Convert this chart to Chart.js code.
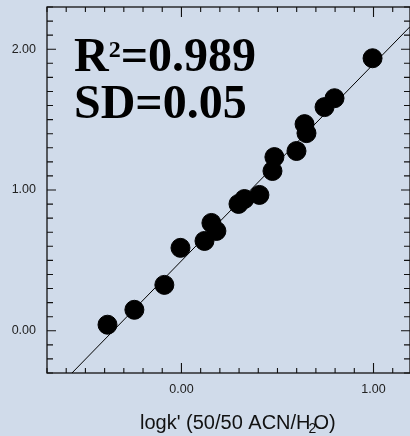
<!DOCTYPE html>
<html>
<head>
<meta charset="utf-8">
<script src="https://cdn.jsdelivr.net/npm/chart.js@4/dist/chart.umd.min.js"></script>
<style>
  html, body { margin: 0; padding: 0; background: #d0dbea; }
  canvas { display: block; }
</style>
</head>
<body>
<canvas id="chart" width="410" height="436"></canvas>
<script>
// данные: logk' (50/50 ACN/H2O) против расчётного значения
const logkX = [-0.385, -0.245, -0.089, -0.005, 0.120, 0.156, 0.182, 0.297, 0.328, 0.406,
               0.474, 0.484, 0.599, 0.651, 0.641, 0.745, 0.797, 0.995];
const logkY = [0.043, 0.149, 0.326, 0.589, 0.638, 0.766, 0.709, 0.901, 0.936, 0.965,
               1.135, 1.234, 1.277, 1.404, 1.468, 1.589, 1.652, 1.936];

// линия регрессии (концы)
const fitLineX = [-0.57, 1.19];
const fitLineY = [-0.30, 2.16];

// подписи осей
const xTickValues = [0, 1];
const yTickValues = [0, 1, 2];
const xTitle = "logk' (50/50 ACN/H";
const xTitleSub = '2';
const xTitleEnd = 'O)';
const statR2 = '0.989';
const statSD = '0.05';

const points = logkX.map((x, i) => ({ x: x, y: logkY[i] }));
const fitLine = fitLineX.map((x, i) => ({ x: x, y: fitLineY[i] }));

// Рамка и внутренние засечки со всех четырёх сторон
const framePlugin = {
    id: 'frame',
    beforeDatasetsDraw(chart) {
        const ctx = chart.ctx;
        const a = chart.chartArea;
        const xs = chart.scales.x, ys = chart.scales.y;
        ctx.save();
        ctx.strokeStyle = '#111';
        ctx.lineWidth = 1.3;
        ctx.strokeRect(a.left, a.top, a.right - a.left, a.bottom - a.top);
        ctx.lineWidth = 1.1;
        ctx.beginPath();
        for (let i = Math.ceil(xs.min * 10); i <= Math.floor(xs.max * 10); i++) {
            const px = xs.getPixelForValue(i / 10);
            const len = (i % 10 === 0) ? 10 : 5;
            ctx.moveTo(px, a.bottom); ctx.lineTo(px, a.bottom - len);
            ctx.moveTo(px, a.top); ctx.lineTo(px, a.top + len);
        }
        for (let i = Math.ceil(ys.min * 10); i <= Math.floor(ys.max * 10); i++) {
            const py = ys.getPixelForValue(i / 10);
            const len = (i % 10 === 0) ? 9 : 6;
            ctx.moveTo(a.left, py); ctx.lineTo(a.left + len, py);
            ctx.moveTo(a.right, py); ctx.lineTo(a.right - len, py);
        }
        ctx.stroke();
        ctx.restore();
    },
    afterDraw(chart) {
        const ctx = chart.ctx;
        ctx.save();
        ctx.fillStyle = '#000';
        ctx.textBaseline = 'alphabetic';

        // R2 и SD
        const big = 'bold 48px "Liberation Serif", "Times New Roman", serif';
        const sup = 'bold 24px "Liberation Serif", "Times New Roman", serif';
        let x = 74;
        ctx.font = big;
        ctx.fillText('R', x, 71);
        x += ctx.measureText('R').width;
        ctx.font = sup;
        ctx.fillText('2', x, 57);
        x += ctx.measureText('2').width;
        ctx.font = big;
        ctx.fillText('=' + statR2, x, 71);
        ctx.fillText('SD=' + statSD, 74, 118);

        // подпись оси X (индекс «2» наезжает на H и O, как в оригинале)
        ctx.fillStyle = '#111';
        ctx.font = '20px "Liberation Sans", Arial, sans-serif';
        const tx = 140;
        ctx.fillText(xTitle, tx, 429);
        const w = ctx.measureText(xTitle).width;
        ctx.fillText(xTitleEnd, tx + w + 3, 429);
        ctx.font = '14px "Liberation Sans", Arial, sans-serif';
        ctx.fillText(xTitleSub, tx + w - 2, 433);
        ctx.restore();
    }
};

const chart = new Chart(document.getElementById('chart').getContext('2d'), {
    type: 'scatter',
    data: {
        datasets: [
            {
                label: 'logk',
                data: points,
                backgroundColor: '#000',
                borderColor: '#000',
                pointRadius: 9.5,
                pointHoverRadius: 9.5,
                order: 0
            },
            {
                type: 'line',
                label: 'fit',
                data: fitLine,
                borderColor: '#000',
                borderWidth: 1,
                pointRadius: 0,
                fill: false,
                order: 1
            }
        ]
    },
    options: {
        responsive: false,
        animation: false,
        layout: { autoPadding: false, padding: { top: 7, right: 0, left: 0, bottom: 0 } },
        plugins: { legend: { display: false }, tooltip: { enabled: false } },
        scales: {
            x: {
                type: 'linear',
                min: -0.7,
                max: 1.19,
                afterBuildTicks: s => { s.ticks = xTickValues.map(v => ({ value: v })); },
                afterFit: s => { s.height = 63; s.paddingLeft = 0; s.paddingRight = 0; },
                grid: { display: false, drawTicks: false },
                border: { display: false },
                ticks: {
                    padding: 9,
                    color: '#222',
                    font: { family: '"Liberation Sans", Arial, sans-serif', size: 12.5 },
                    callback: v => Number(v).toFixed(2)
                }
            },
            y: {
                type: 'linear',
                min: -0.3,
                max: 2.3,
                afterBuildTicks: s => { s.ticks = yTickValues.map(v => ({ value: v })); },
                afterFit: s => { s.width = 47; s.paddingTop = 0; s.paddingBottom = 0; },
                grid: { display: false, drawTicks: false },
                border: { display: false },
                ticks: {
                    padding: 11,
                    color: '#222',
                    font: { family: '"Liberation Sans", Arial, sans-serif', size: 12.5 },
                    callback: v => Number(v).toFixed(2)
                }
            }
        }
    },
    plugins: [framePlugin]
});
</script>
</body>
</html>
